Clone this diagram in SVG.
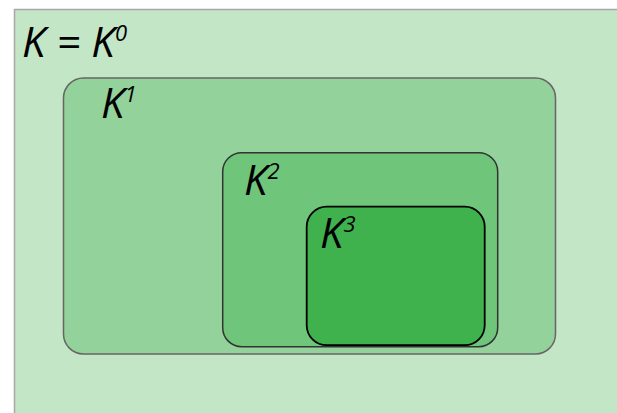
<svg xmlns="http://www.w3.org/2000/svg" width="617" height="413" viewBox="0 0 617 413">
<style>
.t{font-family:"Open Sans","Liberation Sans",sans-serif;font-style:italic;font-size:42px;fill:#000}
.s{font-size:22px}
</style>
<rect width="617" height="413" fill="#ffffff"/>
<g id="K0">
<rect x="14.5" y="9.5" width="620" height="420" fill="#c3e6c6" stroke="#a8a8a8" stroke-width="1.5"/>
<text class="t" x="22" y="57">K = K<tspan class="s" dy="-16">0</tspan></text>
</g>
<g id="K1">
<rect x="63.5" y="78" width="492" height="276" rx="20" fill="#93d29b" stroke="#666" stroke-width="1.5"/>
<text class="t" x="101" y="118">K<tspan class="s" dy="-16">1</tspan></text>
</g>
<g id="K2">
<rect x="222.7" y="152.7" width="275" height="194" rx="19" fill="#6fc57a" stroke="#333" stroke-width="1.5"/>
<text class="t" x="244" y="195">K<tspan class="s" dy="-16">2</tspan></text>
</g>
<g id="K3">
<rect x="306.7" y="206.7" width="178" height="138.5" rx="20" fill="#3fb24e" stroke="#000" stroke-width="1.8"/>
<text class="t" x="320" y="248">K<tspan class="s" dy="-16">3</tspan></text>
</g>
<g id="connectors"/>
</svg>
